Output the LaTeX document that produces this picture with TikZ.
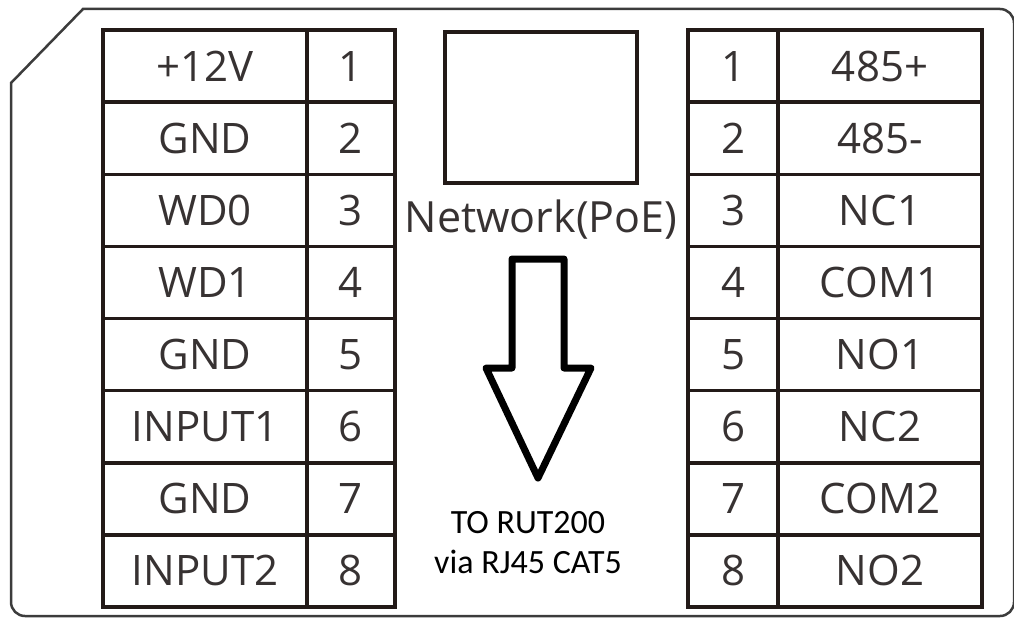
\documentclass[tikz,border=0pt]{standalone}
\usepackage{fontspec}
\setmainfont{Open Sans}
\newfontfamily\calib{Carlito}
\definecolor{ink}{RGB}{35,26,24}
\definecolor{txt}{RGB}{55,50,50}
\definecolor{framec}{RGB}{60,60,60}
\begin{document}
\begin{tikzpicture}[x=1pt,y=-1pt,
  cell/.style={draw=ink, line width=3.5pt, rectangle, inner sep=0pt, outer sep=0pt,
    minimum height=72.125pt, text=txt, font=\fontsize{42}{50}\selectfont,
    text height=30pt, text depth=0pt},
  lcell/.style={cell, minimum width=204pt},
  ncell/.style={cell, minimum width=88pt},
  mcell/.style={cell, minimum width=90pt},
  rcell/.style={cell, minimum width=204pt},
  frame/.style={draw=framec, line width=2.5pt},
  bigarrow/.style={draw=black, line width=7pt, line join=round}
]
\useasboundingbox (0,0) rectangle (1014,618);
% outer housing outline
\draw[frame] (83,9) -- (1000,9) arc[start angle=-90, end angle=0, radius=14]
  -- (1014,602) arc[start angle=0, end angle=90, radius=14]
  -- (25,616) arc[start angle=90, end angle=180, radius=14]
  -- (11,83) -- cycle;
% left terminal block
\foreach \l [count=\i] in {+12V,GND,WD0,WD1,GND,INPUT1,GND,INPUT2}{
  \node[lcell] (L\i) at (205,{30+(\i-0.5)*72.125}) {\l};
  \node[ncell] (LN\i) at (351,{30+(\i-0.5)*72.125}) {\i};
}
% right terminal block
\foreach \l [count=\i] in {485+,485-,NC1,COM1,NO1,NC2,COM2,NO2}{
  \node[mcell] (RN\i) at (733,{30+(\i-0.5)*72.125}) {\i};
  \node[rcell] (R\i) at (880,{30+(\i-0.5)*72.125}) {\l};
}
% network port
\node[draw=ink, line width=3.5pt, minimum width=192pt, minimum height=151pt, inner sep=0pt] (net) at (541,107.5) {};
\node[text=txt, font=\fontsize{43}{50}\selectfont, anchor=base, inner sep=0pt] (netlbl) at (541,232) {Network(PoE)};
% big arrow
\draw[bigarrow] (512,259) -- (564,259) -- (564,368) -- (591,368) -- (538,478) -- (486,368) -- (512,368) -- cycle;
% destination text
\node[text=black, font=\calib\fontsize{34}{40}\selectfont, anchor=base, inner sep=0pt] (dest1) at (528,533) {TO RUT200};
\node[text=black, font=\calib\fontsize{34}{40}\selectfont, anchor=base, inner sep=0pt] (dest2) at (528,573) {via RJ45 CAT5};
\end{tikzpicture}
\end{document}
